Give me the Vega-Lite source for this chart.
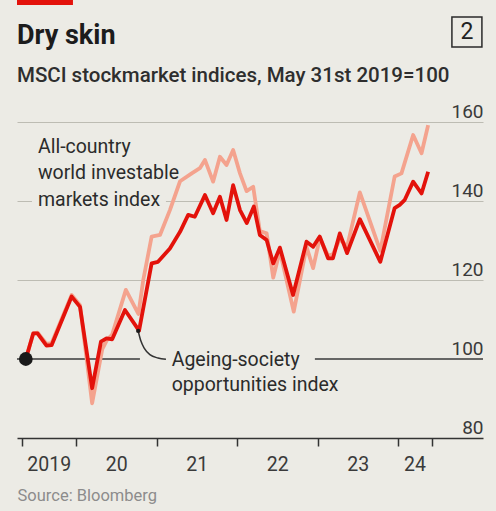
{
"$schema":"https://vega.github.io/schema/vega-lite/v6.json",
"width":466,"height":316,
"autosize":{"type":"none"},
"padding":{"left":17,"top":122,"right":13,"bottom":73},
"background":"#ECEBE5",
"title":{"text":"Dry skin","subtitle":"MSCI stockmarket indices, May 31st 2019=100","anchor":"start","frame":"group","font":"Roboto","fontSize":27,"fontWeight":"bold","color":"#1c1c1c","subtitleFont":"Roboto","subtitleFontSize":20.5,"subtitleFontWeight":500,"subtitleColor":"#2e2e2e","subtitlePadding":16,"offset":-88},
"config":{"view":{"stroke":null},"font":"Roboto"},
"datasets":{
"series":[
{"date":"2019-05-18","index":"All-country world investable markets index","value":100},
{"date":"2019-06-21","index":"All-country world investable markets index","value":106.5},
{"date":"2019-07-10","index":"All-country world investable markets index","value":106.7},
{"date":"2019-08-20","index":"All-country world investable markets index","value":103.8},
{"date":"2019-09-12","index":"All-country world investable markets index","value":104.0},
{"date":"2019-12-12","index":"All-country world investable markets index","value":116.2},
{"date":"2020-01-19","index":"All-country world investable markets index","value":113.6},
{"date":"2020-03-14","index":"All-country world investable markets index","value":88.8},
{"date":"2020-04-29","index":"All-country world investable markets index","value":102.5},
{"date":"2020-05-20","index":"All-country world investable markets index","value":104.8},
{"date":"2020-06-13","index":"All-country world investable markets index","value":106.2},
{"date":"2020-08-14","index":"All-country world investable markets index","value":117.5},
{"date":"2020-10-10","index":"All-country world investable markets index","value":111.4},
{"date":"2020-11-01","index":"All-country world investable markets index","value":120.0},
{"date":"2020-12-09","index":"All-country world investable markets index","value":131.0},
{"date":"2021-01-16","index":"All-country world investable markets index","value":131.4},
{"date":"2021-03-02","index":"All-country world investable markets index","value":137.7},
{"date":"2021-04-17","index":"All-country world investable markets index","value":145.0},
{"date":"2021-06-09","index":"All-country world investable markets index","value":147.0},
{"date":"2021-07-16","index":"All-country world investable markets index","value":148.3},
{"date":"2021-08-08","index":"All-country world investable markets index","value":150.4},
{"date":"2021-09-14","index":"All-country world investable markets index","value":144.9},
{"date":"2021-10-15","index":"All-country world investable markets index","value":151.2},
{"date":"2021-11-14","index":"All-country world investable markets index","value":149.1},
{"date":"2021-12-14","index":"All-country world investable markets index","value":152.9},
{"date":"2022-01-14","index":"All-country world investable markets index","value":147.0},
{"date":"2022-02-13","index":"All-country world investable markets index","value":142.5},
{"date":"2022-03-15","index":"All-country world investable markets index","value":143.6},
{"date":"2022-04-14","index":"All-country world investable markets index","value":132.4},
{"date":"2022-05-15","index":"All-country world investable markets index","value":131.8},
{"date":"2022-06-14","index":"All-country world investable markets index","value":120.6},
{"date":"2022-07-14","index":"All-country world investable markets index","value":127.4},
{"date":"2022-09-15","index":"All-country world investable markets index","value":112.0},
{"date":"2022-11-12","index":"All-country world investable markets index","value":128.4},
{"date":"2022-12-12","index":"All-country world investable markets index","value":123.0},
{"date":"2023-01-11","index":"All-country world investable markets index","value":130.6},
{"date":"2023-02-18","index":"All-country world investable markets index","value":126.2},
{"date":"2023-03-12","index":"All-country world investable markets index","value":126.5},
{"date":"2023-04-12","index":"All-country world investable markets index","value":130.4},
{"date":"2023-05-15","index":"All-country world investable markets index","value":128.4},
{"date":"2023-07-12","index":"All-country world investable markets index","value":142.2},
{"date":"2023-10-13","index":"All-country world investable markets index","value":127.4},
{"date":"2023-12-17","index":"All-country world investable markets index","value":146.2},
{"date":"2024-01-17","index":"All-country world investable markets index","value":147.0},
{"date":"2024-03-10","index":"All-country world investable markets index","value":156.7},
{"date":"2024-04-17","index":"All-country world investable markets index","value":152.1},
{"date":"2024-05-17","index":"All-country world investable markets index","value":159.2},
{"date":"2019-05-18","index":"Ageing-society opportunities index","value":100},
{"date":"2019-06-21","index":"Ageing-society opportunities index","value":106.5},
{"date":"2019-07-10","index":"Ageing-society opportunities index","value":106.5},
{"date":"2019-08-20","index":"Ageing-society opportunities index","value":103.4},
{"date":"2019-09-12","index":"Ageing-society opportunities index","value":103.5},
{"date":"2019-12-12","index":"Ageing-society opportunities index","value":115.8},
{"date":"2020-01-19","index":"Ageing-society opportunities index","value":113.2},
{"date":"2020-03-14","index":"Ageing-society opportunities index","value":92.6},
{"date":"2020-04-23","index":"Ageing-society opportunities index","value":104.4},
{"date":"2020-05-18","index":"Ageing-society opportunities index","value":105.2},
{"date":"2020-06-13","index":"Ageing-society opportunities index","value":105.0},
{"date":"2020-08-10","index":"Ageing-society opportunities index","value":112.4},
{"date":"2020-10-13","index":"Ageing-society opportunities index","value":107.2},
{"date":"2020-12-09","index":"Ageing-society opportunities index","value":124.2},
{"date":"2021-01-07","index":"Ageing-society opportunities index","value":124.6},
{"date":"2021-03-02","index":"Ageing-society opportunities index","value":128.0},
{"date":"2021-04-17","index":"Ageing-society opportunities index","value":132.2},
{"date":"2021-05-24","index":"Ageing-society opportunities index","value":136.5},
{"date":"2021-06-23","index":"Ageing-society opportunities index","value":136.0},
{"date":"2021-08-08","index":"Ageing-society opportunities index","value":141.5},
{"date":"2021-09-14","index":"Ageing-society opportunities index","value":136.9},
{"date":"2021-10-15","index":"Ageing-society opportunities index","value":141.1},
{"date":"2021-11-14","index":"Ageing-society opportunities index","value":135.2},
{"date":"2021-12-14","index":"Ageing-society opportunities index","value":144.0},
{"date":"2022-01-14","index":"Ageing-society opportunities index","value":137.7},
{"date":"2022-02-14","index":"Ageing-society opportunities index","value":134.4},
{"date":"2022-03-18","index":"Ageing-society opportunities index","value":138.6},
{"date":"2022-04-14","index":"Ageing-society opportunities index","value":131.4},
{"date":"2022-05-15","index":"Ageing-society opportunities index","value":130.1},
{"date":"2022-06-14","index":"Ageing-society opportunities index","value":124.2},
{"date":"2022-07-14","index":"Ageing-society opportunities index","value":128.2},
{"date":"2022-09-12","index":"Ageing-society opportunities index","value":116.2},
{"date":"2022-11-12","index":"Ageing-society opportunities index","value":129.7},
{"date":"2022-12-12","index":"Ageing-society opportunities index","value":128.4},
{"date":"2023-01-11","index":"Ageing-society opportunities index","value":131.0},
{"date":"2023-02-18","index":"Ageing-society opportunities index","value":125.5},
{"date":"2023-03-12","index":"Ageing-society opportunities index","value":125.5},
{"date":"2023-04-12","index":"Ageing-society opportunities index","value":131.8},
{"date":"2023-05-15","index":"Ageing-society opportunities index","value":126.8},
{"date":"2023-07-12","index":"Ageing-society opportunities index","value":135.4},
{"date":"2023-10-13","index":"Ageing-society opportunities index","value":124.6},
{"date":"2023-12-17","index":"Ageing-society opportunities index","value":138.2},
{"date":"2024-01-09","index":"Ageing-society opportunities index","value":139.0},
{"date":"2024-02-01","index":"Ageing-society opportunities index","value":140.3},
{"date":"2024-03-10","index":"Ageing-society opportunities index","value":144.9},
{"date":"2024-04-17","index":"Ageing-society opportunities index","value":141.9},
{"date":"2024-05-17","index":"Ageing-society opportunities index","value":147.4}
],
"leader":[
{"date":"2020-10-09","value":107.1},
{"date":"2020-10-21","value":104.6},
{"date":"2020-11-06","value":102.7},
{"date":"2020-12-01","value":101.1},
{"date":"2021-01-07","value":100.25},
{"date":"2021-02-12","value":99.95}
]
},
"resolve":{"axis":{"x":"independent","y":"independent"}},
"layer":[
{"data":{"values":[{}]},"mark":{"type":"rect","color":"#ECEBE5"},
 "encoding":{"x":{"datum":{"year":2019,"month":6,"date":15,"utc":true},"type":"temporal","axis":null},"x2":{"datum":{"year":2021,"month":2,"date":12,"utc":true}},"y":{"datum":138.9,"type":"quantitative","axis":null},"y2":{"datum":141.1}}},
{"data":{"values":[{}]},"mark":{"type":"rule","color":"#3a3a3a","strokeWidth":1.6},
 "encoding":{"x":{"datum":{"year":2019,"month":4,"date":8,"utc":true},"type":"temporal","axis":null},"x2":{"datum":{"year":2020,"month":10,"date":17,"utc":true}},"y":{"datum":100,"type":"quantitative","axis":null}}},
{"data":{"values":[{}]},"mark":{"type":"rule","color":"#3a3a3a","strokeWidth":1.6},
 "encoding":{"x":{"datum":{"year":2022,"month":12,"date":20,"utc":true},"type":"temporal","axis":null},"x2":{"datum":{"year":2025,"month":1,"date":21,"utc":true}},"y":{"datum":100,"type":"quantitative","axis":null}}},
{"data":{"name":"series"},"mark":{"type":"line","strokeJoin":"round","strokeWidth":3.8},
 "encoding":{
  "x":{"field":"date","type":"temporal",
   "scale":{"type":"utc","domain":[{"year":2019,"month":4,"date":8,"utc":true},{"year":2025,"month":1,"date":21,"utc":true}]},
   "axis":{"orient":"bottom","values":[{"year":2019,"month":4,"date":29,"utc":true},{"year":2020,"month":1,"date":1,"utc":true},{"year":2021,"month":1,"date":1,"utc":true},{"year":2022,"month":1,"date":1,"utc":true},{"year":2023,"month":1,"date":1,"utc":true},{"year":2024,"month":1,"date":1,"utc":true},{"year":2024,"month":6,"date":2,"utc":true}],"labels":false,"ticks":true,"tickSize":8,"tickColor":"#333333","tickWidth":1.5,"domain":true,"domainColor":"#333333","domainWidth":1.5,"grid":false,"title":null}},
  "y":{"field":"value","type":"quantitative","scale":{"domain":[80,160],"nice":false,"zero":false},
   "axis":{"orient":"right","values":[80,100,120,140,160],"grid":true,"gridColor":{"condition":{"test":"datum.value <= 100","value":"rgba(0,0,0,0)"},"value":"#BDBCB3"},"gridWidth":1.2,"domain":false,"ticks":false,"tickSize":0,"labelAlign":"right","labelBaseline":"alphabetic","labelPadding":0,"labelOffset":-5,"labelFontSize":19,"labelFont":"Roboto","labelColor":"#3a3a3a","labelFlush":false,"labelOverlap":false,"labelBound":false,"title":null}},
  "color":{"field":"index","type":"nominal","scale":{"domain":["All-country world investable markets index","Ageing-society opportunities index"],"range":["#F4A38E","#E3120B"]},"legend":null}
 }},
{"data":{"name":"leader"},"mark":{"type":"line","color":"#333333","strokeWidth":1.5,"interpolate":"monotone"},
 "encoding":{
  "x":{"field":"date","type":"temporal",
   "axis":{"orient":"bottom","values":[{"year":2019,"month":8,"date":30,"utc":true},{"year":2020,"month":7,"date":1,"utc":true},{"year":2021,"month":7,"date":2,"utc":true},{"year":2022,"month":7,"date":2,"utc":true},{"year":2023,"month":7,"date":2,"utc":true},{"year":2024,"month":3,"date":16,"utc":true}],"labelExpr":"utcFormat(datum.value, '%Y') == '2019' ? '2019' : utcFormat(datum.value, '%y')","ticks":false,"tickSize":0,"domain":false,"grid":false,"labelFontSize":19.5,"labelFont":"Roboto","labelColor":"#3a3a3a","labelPadding":17.7,"labelFlush":false,"labelOverlap":false,"labelBound":false,"title":"Source: Bloomberg","titleAnchor":"start","titleAlign":"left","titleFont":"Roboto","titleFontSize":16.5,"titleFontWeight":"normal","titleColor":"#8c8c8c","titlePadding":13}},
  "y":{"field":"value","type":"quantitative","axis":null}
 }},
{"data":{"values":[{}]},"mark":{"type":"point","filled":true,"size":18,"color":"#1a1a1a","opacity":1},
 "encoding":{"x":{"datum":{"year":2020,"month":10,"date":9,"utc":true},"type":"temporal","axis":null},"y":{"datum":107.1,"type":"quantitative","axis":null}}},
{"data":{"values":[{}]},"mark":{"type":"point","filled":true,"size":190,"color":"#1a1a1a","opacity":1},
 "encoding":{"x":{"datum":{"year":2019,"month":5,"date":18,"utc":true},"type":"temporal","axis":null},"y":{"datum":100,"type":"quantitative","axis":null}}},
{"data":{"values":[{}]},"mark":{"type":"text","text":["All-country","world investable","markets index"],"align":"left","baseline":"middle","lineHeight":26.5,"fontSize":19.5,"font":"Roboto","color":"#2b2b2b"},
 "encoding":{"x":{"datum":{"year":2019,"month":7,"date":12,"utc":true},"type":"temporal","axis":null},"y":{"datum":153.7,"type":"quantitative","axis":null}}},
{"data":{"values":[{}]},"mark":{"type":"text","text":["Ageing-society","opportunities index"],"align":"left","baseline":"middle","lineHeight":25,"fontSize":19.5,"font":"Roboto","color":"#2b2b2b"},
 "encoding":{"x":{"datum":{"year":2021,"month":3,"date":10,"utc":true},"type":"temporal","axis":null},"y":{"datum":99.75,"type":"quantitative","axis":null}}},
{"data":{"values":[{}]},"mark":{"type":"rect","color":"#E3120B"},
 "encoding":{"x":{"datum":{"year":2019,"month":4,"date":8,"utc":true},"type":"temporal","axis":null},"x2":{"datum":{"year":2019,"month":12,"date":18,"utc":true}},"y":{"datum":190.9,"type":"quantitative","axis":null},"y2":{"datum":189.6}}},
{"data":{"values":[{}]},"mark":{"type":"point","shape":"square","filled":false,"size":900,"stroke":"#2a2a2a","strokeWidth":1.5,"opacity":1},
 "encoding":{"x":{"datum":{"year":2024,"month":11,"date":9,"utc":true},"type":"temporal","axis":null},"y":{"datum":182.8,"type":"quantitative","axis":null}}},
{"data":{"values":[{}]},"mark":{"type":"text","text":"2","align":"center","baseline":"middle","fontSize":23,"font":"Roboto","color":"#222222"},
 "encoding":{"x":{"datum":{"year":2024,"month":11,"date":9,"utc":true},"type":"temporal","axis":null},"y":{"datum":182.8,"type":"quantitative","axis":null}}}
]
}
